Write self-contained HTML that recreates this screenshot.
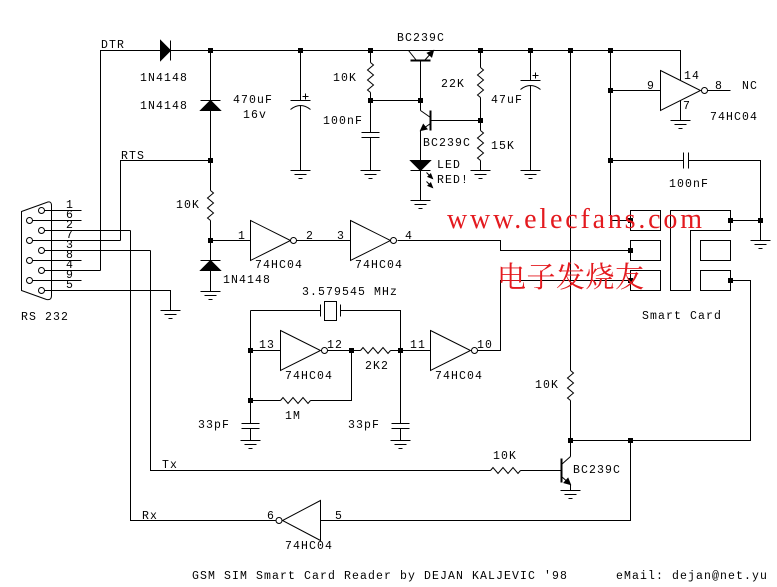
<!DOCTYPE html>
<html><head><meta charset="utf-8"><style>
html,body{margin:0;padding:0;background:#fff;}
svg{display:block}
.t text{font-family:"Liberation Mono",monospace;font-size:11.5px;letter-spacing:1.1px;fill:#000}
</style></head><body>
<svg width="777" height="587" viewBox="0 0 777 587" xmlns="http://www.w3.org/2000/svg">
<rect width="777" height="587" fill="#fff"/>
<g transform="translate(0.5,0.5)" stroke="#000" stroke-width="1" fill="none">
<!-- top rail -->
<path d="M100,270 V50 H160 M170,50 H680 V80"/>
<polygon points="160,40 160,60 170,50" fill="#000"/>
<path d="M170,40 V60"/>
<!-- x=210 chain -->
<path d="M210,50 V100 M200,100 H220"/>
<polygon points="200,110 220,110 210,100" fill="#000"/>
<path d="M210,110 V190 M210,190 L213,192.5 L207,197.5 L213,202.5 L207,207.5 L213,212.5 L207,217.5 L210,220 M210,220 V260 M200,260 H220"/>
<polygon points="200,270 220,270 210,260" fill="#000"/>
<path d="M210,270 V291"/>
<!-- RTS -->
<path d="M120,240 V160 H210"/>
<!-- 470uF -->
<path d="M300,50 V100 M290,100 H310 M290,109 Q300,101 310,109 M300,105 V170 M302,96 H308 M305,93 V99"/>
<!-- 47uF -->
<path d="M530,50 V80 M520,80 H540 M520,89 Q530,81 540,89 M530,85 V170 M532,75 H538 M535,72 V78"/>
<!-- 10K + 100nF -->
<path d="M370,50 V62 M370,62 L373,64.5 L367,69.5 L373,74.5 L367,79.5 L373,84.5 L367,89.5 L370,92 M370,92 V132 M361,132 H379 M361,137 H379 M370,137 V170 M370,100 H420"/>
<!-- T1 -->
<path d="M410,60 H430" stroke-width="2"/>
<path d="M408,50 L416,60 M424,60 L433,50 M420,60 V110"/>
<polygon points="433,50 431.2,56.5 426.8,52.5" fill="#000"/>
<!-- T2 -->
<path d="M430,110 V130" stroke-width="2"/>
<path d="M420,110 L430,117 M430,123 L420,130 M430,120 H480 M420,130 V160"/>
<polygon points="420,130 426.6,128.6 422.8,123.9" fill="#000"/>
<!-- LED -->
<polygon points="410,160 430,160 420,170" fill="#000"/>
<path d="M410,170 H430 M420,170 V200 M426,172 L432,178 M426,181 L432,187"/>
<polygon points="432,178 427.4,176.2 430.2,173.4" fill="#000"/>
<polygon points="432,187 427.4,185.2 430.2,182.4" fill="#000"/>
<!-- 22K / 15K -->
<path d="M480,50 V67 M480,67 L483,69.5 L477,74.5 L483,79.5 L477,84.5 L483,89.5 L477,94.5 L480,97 M480,97 V130 M480,130 L483,132.5 L477,137.5 L483,142.5 L477,147.5 L483,152.5 L477,157.5 L480,160 M480,160 V170"/>
<!-- inverter 9/8 -->
<polygon points="660,70 700,90 660,110"/>
<circle cx="704" cy="90" r="3" fill="#fff"/>
<path d="M707,90 H730 M610,90 H660 M680,100 V120"/>
<!-- 100nF right -->
<path d="M610,160 H683 M683,152 V168 M688,152 V168 M688,160 H760 V240 M730,220 H760"/>
<!-- verticals -->
<path d="M570,50 V370 M570,370 L573,372.5 L567,377.5 L573,382.5 L567,387.5 L573,392.5 L567,397.5 L570,400 M570,400 V456"/>
<path d="M610,50 V220 H630"/>
<!-- smart card -->
<rect x="630" y="210" width="30" height="20"/>
<rect x="630" y="240" width="30" height="20"/>
<rect x="630" y="270" width="30" height="20"/>
<path d="M670,210 H730 V230 H690 V290 H670 Z"/>
<rect x="700" y="240" width="30" height="20"/>
<rect x="700" y="270" width="30" height="20"/>
<path d="M397,240 H500 V250 H630 M477,350 H500 V280 H630 M730,280 H750 V440 H570 M630,440 V520 H320"/>
<!-- inverters 1-4 -->
<path d="M210,240 H250"/>
<polygon points="250,220 290,240 250,260"/>
<circle cx="293" cy="240" r="3" fill="#fff"/>
<path d="M296,240 H350"/>
<polygon points="350,220 390,240 350,260"/>
<circle cx="393" cy="240" r="3" fill="#fff"/>
<!-- crystal -->
<path d="M250,310 H320 M320,304 V316 M340,304 V316 M340,310 H400 V423 M391,423 H409 M391,428 H409 M400,428 V440"/>
<rect x="324" y="301" width="12" height="19"/>
<path d="M250,310 V423 M241,423 H259 M241,428 H259 M250,428 V440"/>
<!-- oscillator inverters -->
<path d="M250,350 H280"/>
<polygon points="280,330 320,350 280,370"/>
<circle cx="324" cy="350" r="3" fill="#fff"/>
<path d="M327,350 H360 M360,350 L362.5,347 L367.5,353 L372.5,347 L377.5,353 L382.5,347 L387.5,353 L390,350 M390,350 H430"/>
<polygon points="430,330 470,350 430,370"/>
<circle cx="474" cy="350" r="3" fill="#fff"/>
<path d="M250,400 H280 M280,400 L282.5,397 L287.5,403 L292.5,397 L297.5,403 L302.5,397 L307.5,403 L310,400 M310,400 H351 V350"/>
<!-- Tx -->
<path d="M150,250 V470 H490 M490,470 L492.5,467 L497.5,473 L502.5,467 L507.5,473 L512.5,467 L517.5,473 L520,470 M520,470 H561"/>
<path d="M561,458 V482" stroke-width="2"/>
<path d="M561,464 L570,456 M561,476 L570,484 M570,484 V490"/>
<polygon points="570,484 563.5,482.2 567.5,477.8" fill="#000"/>
<!-- Rx -->
<path d="M130,230 V520 H275"/>
<polygon points="320,500 282,520 320,540"/>
<circle cx="278.5" cy="520" r="3" fill="#fff"/>
<!-- DB9 -->
<path d="M21,211 L46,202 Q51,200 51,205 V295 Q51,300 46,299 L21,290 Z"/>
<circle cx="41" cy="210" r="3"/><circle cx="29" cy="220" r="3"/><circle cx="41" cy="230" r="3"/>
<circle cx="29" cy="240" r="3"/><circle cx="41" cy="250" r="3"/><circle cx="29" cy="260" r="3"/>
<circle cx="41" cy="270" r="3"/><circle cx="29" cy="280" r="3"/><circle cx="41" cy="290" r="3"/>
<path d="M44,210 H81 M32,220 H81 M44,230 H130 M32,240 H120 M44,250 H150 M32,260 H81 M44,270 H100 M32,280 H81 M44,290 H170 V310"/>
<!-- grounds -->
<path d="M200,291 H220 M204,295 H216 M208,299 H212
M160,310 H180 M164,314 H176 M168,318 H172
M290,170 H310 M294,174 H306 M298,178 H302
M360,170 H380 M364,174 H376 M368,178 H372
M470,170 H490 M474,174 H486 M478,178 H482
M520,170 H540 M524,174 H536 M528,178 H532
M410,200 H430 M414,204 H426 M418,208 H422
M670,120 H690 M674,124 H686 M678,128 H682
M750,240 H770 M754,244 H766 M758,248 H762
M240,440 H260 M244,444 H256 M248,448 H252
M390,440 H410 M394,444 H406 M398,448 H402
M560,490 H580 M564,494 H576 M568,498 H572"/>
</g>
<!-- junctions -->
<g fill="#000">
<rect x="208" y="48" width="5" height="5"/><rect x="298" y="48" width="5" height="5"/>
<rect x="368" y="48" width="5" height="5"/><rect x="478" y="48" width="5" height="5"/>
<rect x="528" y="48" width="5" height="5"/><rect x="568" y="48" width="5" height="5"/>
<rect x="608" y="48" width="5" height="5"/><rect x="368" y="98" width="5" height="5"/>
<rect x="418" y="98" width="5" height="5"/><rect x="478" y="118" width="5" height="5"/>
<rect x="208" y="158" width="5" height="5"/><rect x="208" y="238" width="5" height="5"/>
<rect x="608" y="88" width="5" height="5"/><rect x="608" y="158" width="5" height="5"/>
<rect x="628" y="218" width="5" height="5"/><rect x="728" y="218" width="5" height="5"/>
<rect x="758" y="218" width="5" height="5"/><rect x="628" y="248" width="5" height="5"/>
<rect x="628" y="278" width="5" height="5"/><rect x="728" y="278" width="5" height="5"/>
<rect x="248" y="348" width="5" height="5"/><rect x="349" y="348" width="5" height="5"/>
<rect x="398" y="348" width="5" height="5"/><rect x="248" y="398" width="5" height="5"/>
<rect x="568" y="438" width="5" height="5"/><rect x="628" y="438" width="5" height="5"/>
</g>
<g class="t">
<text x="101" y="48">DTR</text>
<text x="140" y="81">1N4148</text>
<text x="140" y="109">1N4148</text>
<text x="121" y="159">RTS</text>
<text x="233" y="103">470uF</text>
<text x="243" y="118">16v</text>
<text x="397" y="41">BC239C</text>
<text x="333" y="81">10K</text>
<text x="323" y="124">100nF</text>
<text x="441" y="87">22K</text>
<text x="491" y="103">47uF</text>
<text x="423" y="146">BC239C</text>
<text x="491" y="149">15K</text>
<text x="437" y="168">LED</text>
<text x="437" y="183">RED!</text>
<text x="684" y="79">14</text>
<text x="647" y="89">9</text>
<text x="715" y="89">8</text>
<text x="742" y="89">NC</text>
<text x="683" y="109">7</text>
<text x="710" y="120">74HC04</text>
<text x="669" y="187">100nF</text>
<text x="176" y="208">10K</text>
<text x="66" y="208">1</text>
<text x="66" y="218">6</text>
<text x="66" y="228">2</text>
<text x="66" y="238">7</text>
<text x="66" y="248">3</text>
<text x="66" y="258">8</text>
<text x="66" y="268">4</text>
<text x="66" y="278">9</text>
<text x="66" y="288">5</text>
<text x="21" y="320">RS 232</text>
<text x="238" y="239">1</text>
<text x="306" y="239">2</text>
<text x="337" y="239">3</text>
<text x="405" y="239">4</text>
<text x="255" y="268">74HC04</text>
<text x="355" y="268">74HC04</text>
<text x="223" y="283">1N4148</text>
<text x="302" y="295">3.579545 MHz</text>
<text x="259" y="348">13</text>
<text x="327" y="348">12</text>
<text x="410" y="348">11</text>
<text x="477" y="348">10</text>
<text x="285" y="379">74HC04</text>
<text x="365" y="369">2K2</text>
<text x="435" y="379">74HC04</text>
<text x="285" y="419">1M</text>
<text x="198" y="428">33pF</text>
<text x="348" y="428">33pF</text>
<text x="642" y="319">Smart Card</text>
<text x="535" y="388">10K</text>
<text x="493" y="459">10K</text>
<text x="573" y="473">BC239C</text>
<text x="162" y="468">Tx</text>
<text x="142" y="519">Rx</text>
<text x="267" y="519">6</text>
<text x="335" y="519">5</text>
<text x="285" y="549">74HC04</text>
<text x="192" y="579">GSM SIM Smart Card Reader by DEJAN KALJEVIC '98</text>
<text x="616" y="579">eMail: dejan@net.yu</text>
</g>
<!-- watermark -->
<text x="447" y="228" font-family="'Liberation Serif', serif" font-size="28" fill="#e41a1f" textLength="255" lengthAdjust="spacing">www.elecfans.com</text>
<text x="497" y="287" font-family="'Liberation Serif','Noto Serif CJK SC',serif" font-size="29" fill="#e41a1f" textLength="147" lengthAdjust="spacing">电子发烧友</text>
</svg>
</body></html>
